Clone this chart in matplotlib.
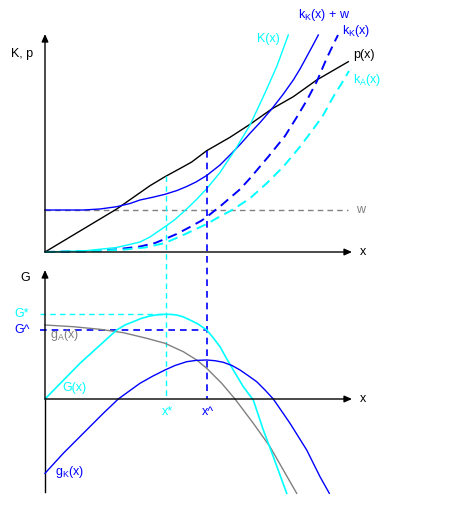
import matplotlib
matplotlib.use("Agg")
import matplotlib.pyplot as plt

# ---------------- data (top panel: costs and price) ----------------
p_x = [0, 71.7, 105, 120, 138.3, 146.7, 161.7, 185, 205, 226.7, 248.3, 271.7, 303.3]
p_y = [0, 43, 66.3, 75.3, 85.3, 90, 101.3, 114.7, 127.7, 143, 155.3, 172, 190.3]

w_level = 42

kKw_x = [0, 38.3, 55, 71.7, 85, 95, 108, 120, 132, 141.7, 151, 161.7, 175, 186.7,
         196, 205, 216, 226.7, 238, 248.3, 255, 261.7, 267.5, 273.3]
kKw_y = [42, 42, 43, 45.3, 48.5, 52, 54.8, 57.7, 61.5, 65.5, 70, 76.5, 87, 98.7,
         108.5, 118.7, 130.5, 143, 157.5, 172, 183, 195.3, 206, 217]

kK_x = [0, 45, 70, 95, 110, 120, 131.7, 145, 156.7, 161.7, 176.7, 195, 205, 223.3,
        240, 251.7, 262, 271.7, 281.7, 290, 293]
kK_y = [0, 0.8, 2.5, 5.5, 9, 13, 18, 25, 31.5, 35, 47, 62.7, 73.7, 95.3,
        116, 134.7, 152, 170.3, 193.7, 211, 217]

kA_x = [0, 50, 80, 100, 120, 138.3, 150, 161.7, 171.7, 188.3, 205, 221.7, 238.3,
        255, 270, 278.3, 288.3, 296, 304]
kA_y = [0, 1, 2.5, 4.5, 9, 17, 22.5, 28, 33.7, 42.7, 53.7, 68.7, 85.3,
        105.3, 125.3, 137, 155.3, 167.5, 181]

K_x = [0, 40, 71.7, 95, 105, 120, 130, 141.7, 151, 161.7, 175, 190, 205, 218.3, 231.7, 243.3]
K_y = [0, 1.2, 4.5, 10, 15, 25.3, 32.5, 43, 52, 63.3, 79.5, 102, 127, 155.3, 185.3, 217]

# ---------------- data (bottom panel: profits) ----------------
G_x = [0, 35, 71.7, 80, 88.3, 96, 105, 112, 120, 126, 131.7, 138, 145, 153, 161.7,
       168, 175, 181, 188.3, 198.3, 203, 208.3, 218.3, 228.3, 241.7]
G_y = [0, 35.7, 69, 74, 77.3, 80.5, 83, 84.2, 84.7, 84.6, 84, 82.2, 79, 75, 69,
       61.5, 52.3, 41.5, 29, 12.3, 6, -1, -31, -57.7, -94.3]

gA_x = [0, 28.3, 55, 78.3, 101.7, 120, 138.3, 151.7, 161.7, 176.7, 190, 208.3,
        225, 238.3, 251.7]
gA_y = [74, 72.3, 69.7, 66.3, 60.7, 55.7, 47.3, 39, 30.7, 15.7, 0, -24.3,
        -47.7, -71, -94.3]

gK_x = [0, 18.3, 38.3, 58.3, 73.3, 85, 95, 108, 120, 130, 141.7, 151, 161.7, 170,
        178.3, 187, 195, 203, 211.7, 220, 228.3, 245, 261.7, 275, 284.3]
gK_y = [-74.3, -54.3, -34.3, -14.3, 0, 8.5, 15.7, 23, 29, 33.5, 37.3, 38.6, 39, 38.3,
        36.7, 33.5, 29, 23.5, 17.3, 9, 0, -24.3, -51, -77.7, -94.3]

x_star = 120.7
x_hat = 161.7
G_star = 84.7
G_hat = 69.0
p_at_xstar = 76
p_at_xhat = 101.3

CYAN = "#00FFFF"
BLUE = "#0000FF"
GRAY = "#808080"
BLACK = "#000000"

plt.rcParams['font.family'] = ['Liberation Sans', 'DejaVu Sans']
FS = 9

W, H = 454, 507
fig = plt.figure(figsize=(W / 100, H / 100), dpi=100)
fig.patch.set_facecolor("white")

# origins in pixels
ox = 45
oy_top = 252
oy_bot = 399

top = fig.add_axes([0, 0, 1, 1])
top.set_xlim(-ox, W - ox)
top.set_ylim(oy_top - H, oy_top)
top.axis("off")

bot = fig.add_axes([0, 0, 1, 1])
bot.set_xlim(-ox, W - ox)
bot.set_ylim(oy_bot - H, oy_bot)
bot.axis("off")
bot.patch.set_alpha(0)

arrow_kw = dict(arrowstyle="-|>,head_length=0.45,head_width=0.2", color="black", lw=1,
                shrinkA=0, shrinkB=0)

# ---- top axes lines ----
top.annotate("", xy=(0, 252 - 34), xytext=(0, 0), arrowprops=arrow_kw)
top.annotate("", xy=(307, 0), xytext=(0, 0), arrowprops=arrow_kw)
top.text(-34, 252 - 54, "K, p", fontsize=FS, ha="left", va="center")
top.text(315, 0, "x", fontsize=FS, ha="left", va="center")

# w line
top.plot([0, 303], [w_level, w_level], color=GRAY, lw=1, dashes=(4, 3))
top.text(311, w_level, "w", fontsize=FS, color=GRAY, ha="left", va="center")

top.plot(p_x, p_y, color=BLACK, lw=1)
top.plot(kKw_x, kKw_y, color=BLUE, lw=1)
top.plot(kK_x, kK_y, color=BLUE, lw=1.4, dashes=(5, 3))
top.plot(kA_x, kA_y, color=CYAN, lw=1.4, dashes=(5, 3))
top.plot(K_x, K_y, color=CYAN, lw=1)

top.text(212, 252 - 39, "K(x)", fontsize=FS, color=CYAN, ha="left", va="center")
top.text(253, 252 - 15, r"k$_\mathregular{K}$(x) + w", fontsize=FS, color=BLUE, ha="left", va="center")
top.text(297, 252 - 31, r"k$_\mathregular{K}$(x)", fontsize=FS, color=BLUE, ha="left", va="center")
top.text(308, 252 - 55, "p(x)", fontsize=FS, color=BLACK, ha="left", va="center")
top.text(308, 252 - 80, r"k$_\mathregular{A}$(x)", fontsize=FS, color=CYAN, ha="left", va="center")

# vertical guide lines spanning both panels
drop = oy_top - oy_bot  # bottom x-axis in top coordinates
top.plot([x_star, x_star], [p_at_xstar, drop], color=CYAN, lw=1, dashes=(4, 3))
top.plot([x_hat, x_hat], [p_at_xhat, drop], color=BLUE, lw=1.2, dashes=(4, 3))

# ---- bottom axes lines ----
bot.plot([0, 0], [-93, 0], color="black", lw=1)
bot.annotate("", xy=(0, 399 - 270), xytext=(0, 0), arrowprops=arrow_kw)
bot.annotate("", xy=(307, 0), xytext=(0, 0), arrowprops=arrow_kw)
bot.text(-25, 399 - 278, "G", fontsize=FS, ha="left", va="center")
bot.text(315, 0, "x", fontsize=FS, ha="left", va="center")

bot.plot([-5, x_star], [G_star, G_star], color=CYAN, lw=1, dashes=(4, 3))
bot.plot([-5, x_hat], [G_hat, G_hat], color=BLUE, lw=1.2, dashes=(4, 3))
bot.text(-31, G_star, "G*", fontsize=FS, color=CYAN, ha="left", va="center")
bot.text(-31, G_hat, "G^", fontsize=FS, color=BLUE, ha="left", va="center")

bot.plot(gA_x, gA_y, color=GRAY, lw=1)
bot.plot(G_x, G_y, color=CYAN, lw=1.2)
bot.plot(gK_x, gK_y, color=BLUE, lw=1)

bot.text(5, 399 - 335, r"g$_\mathregular{A}$(x)", fontsize=FS, color=GRAY, ha="left", va="center")
bot.text(17, 399 - 388, "G(x)", fontsize=FS, color=CYAN, ha="left", va="center")
bot.text(10, 399 - 472, r"g$_\mathregular{K}$(x)", fontsize=FS, color=BLUE, ha="left", va="center")
bot.text(x_star + 2, -13, "x*", fontsize=FS, color=CYAN, ha="center", va="center")
bot.text(x_hat + 1, -13, "x^", fontsize=FS, color=BLUE, ha="center", va="center")

fig.savefig("out.png", dpi=100, facecolor="white")
